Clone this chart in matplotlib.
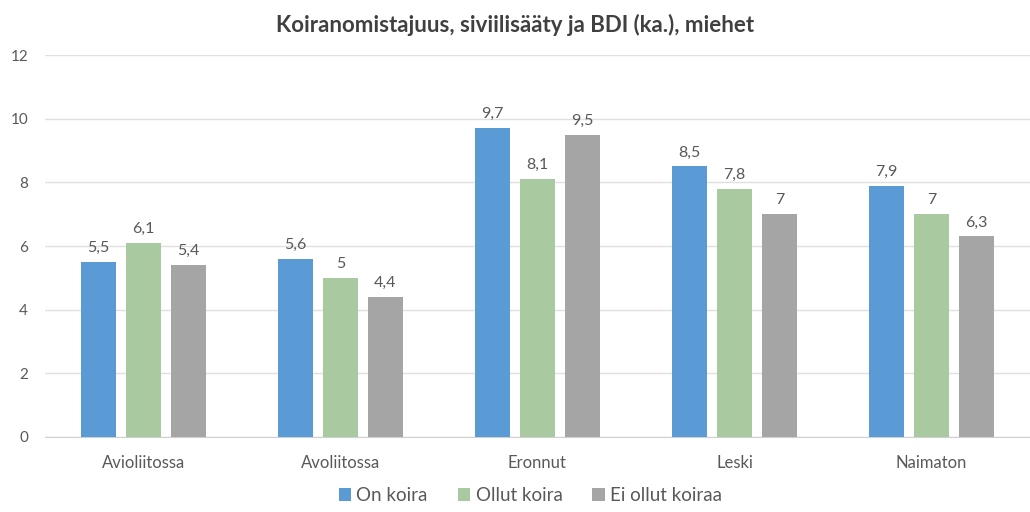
import matplotlib.pyplot as plt
import numpy as np

plt.rcParams['font.family'] = ['Lato', 'DejaVu Sans']

# Data
categories = ['Avioliitossa', 'Avoliitossa', 'Eronnut', 'Leski', 'Naimaton']
series_names = ['On koira', 'Ollut koira', 'Ei ollut koiraa']
on_koira = [5.5, 5.6, 9.7, 8.5, 7.9]
ollut_koira = [6.1, 5.0, 8.1, 7.8, 7.0]
ei_ollut = [5.4, 4.4, 9.5, 7.0, 6.3]
y_ticks = [0, 2, 4, 6, 8, 10, 12]

colors = ['#5B9BD5', '#A9C9A0', '#A5A5A5']
text_color = '#595959'

fig = plt.figure(figsize=(10.3, 5.12), dpi=100)
ax = fig.add_axes([0.0435, 0.1465, 0.9565, 0.746])

x = np.arange(len(categories))
width = 0.178
step = 0.228

for i, (vals, name, col) in enumerate(zip([on_koira, ollut_koira, ei_ollut], series_names, colors)):
    bars = ax.bar(x + (i - 1) * step, vals, width, color=col, label=name, zorder=3)
    for b, v in zip(bars, vals):
        lbl = ('%g' % v).replace('.', ',')
        ax.text(b.get_x() + b.get_width() / 2, v + 0.22, lbl, ha='center', va='bottom',
                fontsize=11.5, color=text_color)

ax.set_xlim(-0.5, len(categories) - 0.5)
ax.set_ylim(0, 12)
ax.set_yticks(y_ticks)
ax.set_xticks(x)
ax.set_xticklabels(categories, fontsize=12, color=text_color)
ax.tick_params(axis='y', labelsize=11, colors=text_color, length=0, pad=12)
ax.tick_params(axis='x', length=0, pad=13)
ax.grid(axis='y', color='#E0E0E0', linewidth=1, zorder=0)
for s in ['top', 'right', 'left']:
    ax.spines[s].set_visible(False)
ax.spines['bottom'].set_color('#D0D0D0')

fig.suptitle('Koiranomistajuus, siviilisääty ja BDI (ka.), miehet', y=0.972,
             fontsize=16, fontweight='bold', color='#404040')

fig.legend(loc='lower center', bbox_to_anchor=(0.515, -0.018), ncol=3, frameon=False,
           fontsize=13.5, handlelength=0.65, handleheight=0.65, handletextpad=0.3,
           columnspacing=1.6, labelcolor=text_color)

fig.savefig('out.png', dpi=100)
